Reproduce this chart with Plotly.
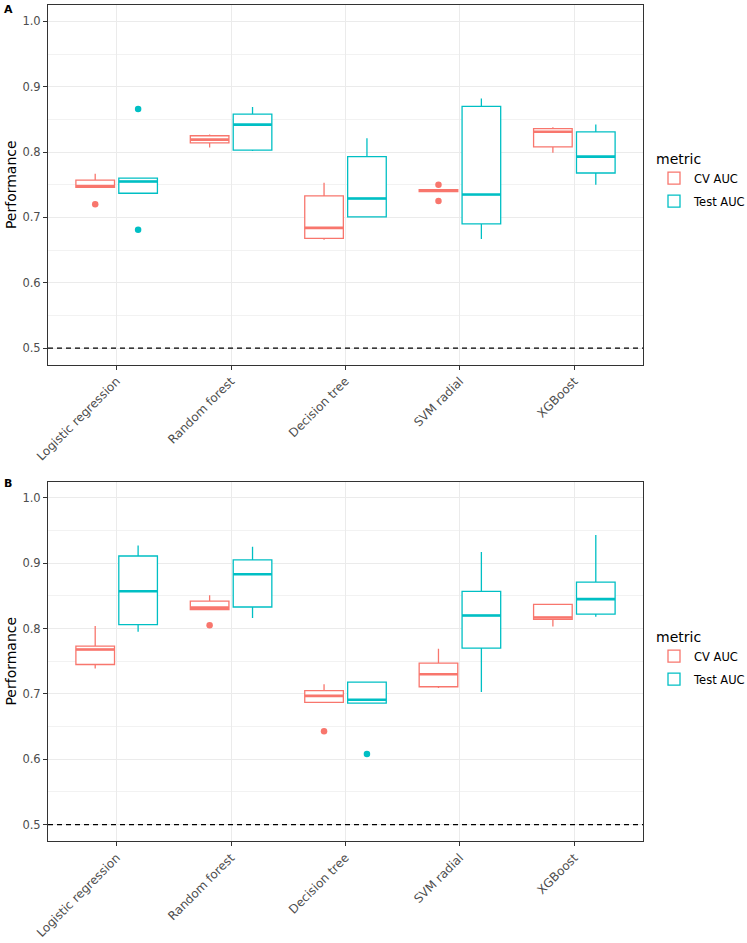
import plotly.graph_objects as go

models = ["Logistic regression", "Random forest", "Decision tree", "SVM radial", "XGBoost"]
metrics = ["CV AUC", "Test AUC"]
colors = {"CV AUC": "#F8766D", "Test AUC": "#00BFC4"}

# ---- Panel A ----
a_cv_lower = [0.746, 0.807, 0.666, 0.7395, 0.799]
a_cv_q1 = [0.746, 0.814, 0.668, 0.7395, 0.808]
a_cv_median = [0.748, 0.819, 0.684, 0.741, 0.831]
a_cv_q3 = [0.757, 0.825, 0.733, 0.7425, 0.836]
a_cv_upper = [0.767, 0.827, 0.753, 0.7425, 0.838]
a_cv_out_model = ["Logistic regression", "SVM radial", "SVM radial"]
a_cv_out_val = [0.720, 0.750, 0.725]

a_test_lower = [0.737, 0.8015, 0.700, 0.667, 0.750]
a_test_q1 = [0.737, 0.803, 0.701, 0.690, 0.768]
a_test_median = [0.755, 0.842, 0.729, 0.735, 0.793]
a_test_q3 = [0.760, 0.858, 0.793, 0.870, 0.831]
a_test_upper = [0.760, 0.869, 0.821, 0.882, 0.842]
a_test_out_model = ["Logistic regression", "Logistic regression"]
a_test_out_val = [0.866, 0.681]

# ---- Panel B ----
b_cv_lower = [0.739, 0.829, 0.687, 0.709, 0.803]
b_cv_q1 = [0.745, 0.829, 0.687, 0.711, 0.814]
b_cv_median = [0.768, 0.832, 0.697, 0.730, 0.817]
b_cv_q3 = [0.773, 0.842, 0.705, 0.747, 0.837]
b_cv_upper = [0.804, 0.851, 0.715, 0.769, 0.838]
b_cv_out_model = ["Random forest", "Decision tree"]
b_cv_out_val = [0.805, 0.643]

b_test_lower = [0.795, 0.816, 0.686, 0.703, 0.818]
b_test_q1 = [0.806, 0.833, 0.686, 0.770, 0.822]
b_test_median = [0.857, 0.883, 0.691, 0.820, 0.845]
b_test_q3 = [0.911, 0.905, 0.718, 0.857, 0.871]
b_test_upper = [0.927, 0.925, 0.718, 0.917, 0.943]
b_test_out_model = ["Decision tree"]
b_test_out_val = [0.608]

y_ticks = [0.5, 0.6, 0.7, 0.8, 0.9, 1.0]
y_range = [0.475, 1.025]
baseline = 0.5

panels = [
    dict(xa="x", ya="y", legend="legend", label="A", data={
        "CV AUC": (a_cv_lower, a_cv_q1, a_cv_median, a_cv_q3, a_cv_upper, a_cv_out_model, a_cv_out_val),
        "Test AUC": (a_test_lower, a_test_q1, a_test_median, a_test_q3, a_test_upper, a_test_out_model, a_test_out_val),
    }),
    dict(xa="x2", ya="y2", legend="legend2", label="B", data={
        "CV AUC": (b_cv_lower, b_cv_q1, b_cv_median, b_cv_q3, b_cv_upper, b_cv_out_model, b_cv_out_val),
        "Test AUC": (b_test_lower, b_test_q1, b_test_median, b_test_q3, b_test_upper, b_test_out_model, b_test_out_val),
    }),
]

DODGE = 0.75
BOXW = DODGE / 2 * 0.9
offsets = {"CV AUC": -DODGE / 4, "Test AUC": DODGE / 4}
FONT = "DejaVu Sans"

fig = go.Figure()
for p in panels:
    for m in metrics:
        lo, q1, med, q3, up, om, ov = p["data"][m]
        xs = [i + offsets[m] for i in range(len(models))]
        fig.add_trace(go.Box(
            x=xs, q1=q1, median=med, q3=q3, lowerfence=lo, upperfence=up,
            width=BOXW, whiskerwidth=0, boxpoints=False,
            fillcolor="white", line=dict(color=colors[m], width=1.3),
            name=m, legend=p["legend"], legendgroup=p["legend"] + m,
            xaxis=p["xa"], yaxis=p["ya"], hoverinfo="skip",
        ))
        mx, my = [], []
        for x, v in zip(xs, med):
            mx += [x - BOXW / 2, x + BOXW / 2, None]
            my += [v, v, None]
        fig.add_trace(go.Scatter(
            x=mx, y=my, mode="lines", line=dict(color=colors[m], width=2.6),
            showlegend=False, xaxis=p["xa"], yaxis=p["ya"], hoverinfo="skip",
        ))
        fig.add_trace(go.Scatter(
            x=[models.index(n) + offsets[m] for n in om], y=ov, mode="markers",
            marker=dict(color=colors[m], size=6.5),
            showlegend=False, xaxis=p["xa"], yaxis=p["ya"], hoverinfo="skip",
        ))
    fig.add_shape(type="line", xref=p["xa"] + " domain", yref=p["ya"],
                  x0=0, x1=1, y0=baseline, y1=baseline,
                  line=dict(color="black", width=1.4, dash="5px,4px"))

H_TOTAL = 943 - 5 - 102
PANEL_H = 359.5
top_dom = [1 - PANEL_H / H_TOTAL, 1]
bot_dom = [0, PANEL_H / H_TOTAL]

xax = dict(range=[-0.6, len(models) - 0.4], tickvals=list(range(len(models))), ticktext=models,
           tickangle=-45, showgrid=True, gridcolor="#EBEBEB", gridwidth=1, automargin=False,
           showline=True, mirror=True, linecolor="#333333", linewidth=1,
           ticks="outside", ticklen=4, tickcolor="#333333", zeroline=False,
           tickfont=dict(family=FONT, size=12, color="#4D4D4D"))
yax = dict(range=y_range, tickvals=y_ticks, tickformat=".1f", showgrid=True, gridcolor="#EBEBEB",
           gridwidth=1, showline=True, mirror=True, linecolor="#333333", linewidth=1, automargin=False,
           ticks="outside", ticklen=4, tickcolor="#333333", zeroline=False,
           minor=dict(tickvals=[0.55, 0.65, 0.75, 0.85, 0.95], showgrid=True, gridcolor="#F2F2F2",
                      gridwidth=0.6, ticks=""),
           tickfont=dict(family=FONT, size=11.5, color="#4D4D4D"),
           title=dict(text="Performance", font=dict(family=FONT, size=14, color="black"), standoff=2))

LEG_X = (654 - 48) / 595
fig.update_layout(
    template="none",
    width=747, height=943,
    margin=dict(l=48, r=104, t=5, b=102, autoexpand=False),
    paper_bgcolor="white", plot_bgcolor="white",
    font=dict(family=FONT, color="black"),
    xaxis=dict(xax, domain=[0, 1], anchor="y"),
    yaxis=dict(yax, domain=top_dom, anchor="x"),
    xaxis2=dict(xax, domain=[0, 1], anchor="y2"),
    yaxis2=dict(yax, domain=bot_dom, anchor="x2"),
    legend=dict(x=LEG_X, xanchor="left", y=1 - (181 - 5) / H_TOTAL, yanchor="middle",
                title=dict(text="metric", font=dict(family=FONT, size=14)),
                font=dict(family=FONT, size=11.5), bgcolor="rgba(0,0,0,0)", tracegroupgap=4),
    legend2=dict(x=LEG_X, xanchor="left", y=1 - (659 - 5) / H_TOTAL, yanchor="middle",
                 title=dict(text="metric", font=dict(family=FONT, size=14)),
                 font=dict(family=FONT, size=11.5), bgcolor="rgba(0,0,0,0)", tracegroupgap=4),
    showlegend=True,
)

for p, ytop in zip(panels, [3, 477]):
    fig.add_annotation(text="<b>" + p["label"] + "</b>", xref="paper", yref="paper",
                       x=(2 - 48) / 595, xanchor="left",
                       y=1 - (ytop - 5 - 2) / H_TOTAL, yanchor="top",
                       showarrow=False, font=dict(family=FONT, size=11, color="black"))

fig.write_html("out.html", config={"displayModeBar": False},
               post_script="document.body.style.margin='0';document.body.style.padding='0';")
